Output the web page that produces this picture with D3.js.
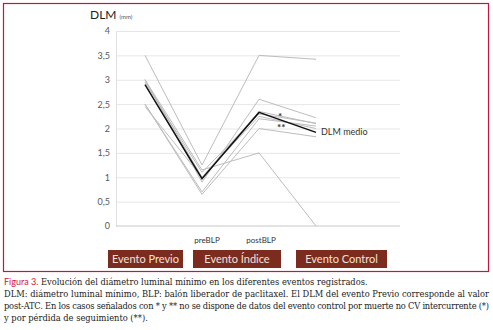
<!DOCTYPE html>
<html><head><meta charset="utf-8">
<script src="https://cdn.jsdelivr.net/npm/d3@7"></script>
<style>
html,body{margin:0;padding:0;background:#fff;}
svg{display:block;}
</style></head>
<body>
<script>
const categories = ["Previo", "preBLP", "postBLP", "Control"];
const catLabels = ["", "preBLP", "postBLP", ""];
const series = [
  [3.5, 1.25, 3.5, 3.42],
  [3.0, 1.15, 1.5, 0],
  [3.0, 0.9, 2.6, 2.22],
  [2.95, 1.1, 2.3, 2.11],
  [2.5, 0.7, 2.2, 2.05],
  [2.5, 0.65, 2.0, 1.83],
  [3.0, 1.0, 2.35, 2.1],
  [2.45, 1.0, 2.25, 2.0]
];
const meanValues = [2.9, 0.97, 2.33, 1.92];
const yTicks = [0, 0.5, 1, 1.5, 2, 2.5, 3, 3.5, 4];
const eventLabels = ["Evento Previo", "Evento Índice", "Evento Control"];
const captionLines = [
  "DLM: diámetro luminal mínimo, BLP: balón liberador de paclitaxel. El DLM del evento Previo corresponde al valor",
  "post-ATC. En los casos señalados con * y ** no se dispone de datos del evento control por muerte no CV intercurrente (*)",
  "y por pérdida de seguimiento (**)."
];

const W = 493, H = 330;
const svg = d3.select("body").append("svg").attr("width", W).attr("height", H);
const font = "Lato, 'Open Sans', sans-serif";

// frame
svg.append("rect").attr("x", 3.5).attr("y", 3.5).attr("width", 485).attr("height", 268)
  .attr("fill", "none").attr("stroke", "#c0163f").attr("stroke-width", 1.2);

const x = d3.scalePoint().domain(categories).range([145, 316]);
const y = d3.scaleLinear().domain([0, 4]).range([226, 31]);
const plotL = 116, plotR = 400;

// grid
const grid = svg.append("g").attr("transform", `translate(${plotL},0)`)
  .call(d3.axisLeft(y).tickValues(yTicks.filter(t => t > 0)).tickSize(-(plotR - plotL)).tickFormat(""));
grid.select(".domain").remove();
grid.selectAll("line").attr("stroke", "#e6e6e6").attr("stroke-width", 1);

// y axis labels
const yAxis = svg.append("g").attr("transform", `translate(${plotL},0)`)
  .call(d3.axisLeft(y).tickValues(yTicks).tickSize(0).tickPadding(6)
    .tickFormat(d => d3.format("")(d).replace(".", ",")));
yAxis.select(".domain").attr("stroke", "#e0e0e0");
yAxis.selectAll("text").attr("font-family", font).attr("font-size", 9).attr("fill", "#595959");

// x axis baseline
svg.append("line").attr("x1", plotL).attr("x2", plotR).attr("y1", y(0)).attr("y2", y(0))
  .attr("stroke", "#c8c8c8").attr("stroke-width", 1);

// category labels
svg.append("g").selectAll("text").data(categories.filter((c, i) => catLabels[i])).join("text")
  .attr("x", d => x(d) + (d === "preBLP" ? 5 : 2)).attr("y", 243)
  .attr("text-anchor", "middle").attr("font-family", font).attr("font-size", 8).attr("fill", "#333")
  .text(d => catLabels[categories.indexOf(d)]);

// series lines
const line = d3.line().defined(d => d != null).x((d, i) => x(categories[i])).y(d => y(d));
svg.append("g").selectAll("path").data(series).join("path")
  .attr("d", line).attr("fill", "none").attr("stroke", "#bdbdbd").attr("stroke-width", 1);

// mean
svg.append("path").datum(meanValues).attr("d", line).attr("fill", "none")
  .attr("stroke", "#111").attr("stroke-width", 1.5);
svg.append("text").attr("x", x("Control") + 5).attr("y", y(meanValues[3]) + 3)
  .attr("font-family", font).attr("font-size", 9).attr("fill", "#333").text("DLM medio");

// stars
svg.append("text").attr("x", 278).attr("y", 120).attr("font-family", font).attr("font-size", 10)
  .attr("font-weight", "bold").attr("fill", "#333").text("*");
svg.append("text").attr("x", 277).attr("y", 131).attr("font-family", font).attr("font-size", 10)
  .attr("font-weight", "bold").attr("fill", "#333").text("**");

// title
const t = svg.append("text").attr("x", 90).attr("y", 19).attr("font-family", font).attr("fill", "#222");
t.append("tspan").attr("font-size", 12).text("DLM");
t.append("tspan").attr("font-size", 6).attr("dx", 3).attr("fill", "#555").text("(mm)");

// event boxes
const boxes = [{x: 108, w: 75}, {x: 193, w: 88}, {x: 296, w: 91}];
const bg = svg.append("g").selectAll("g").data(eventLabels).join("g");
bg.append("rect").attr("x", (d, i) => boxes[i].x).attr("y", 250).attr("width", (d, i) => boxes[i].w)
  .attr("height", 18).attr("fill", "#7b2c1f");
bg.append("text").attr("x", (d, i) => boxes[i].x + boxes[i].w / 2).attr("y", 263)
  .attr("text-anchor", "middle").attr("font-family", font).attr("font-size", 11)
  .attr("fill", "#f3e2da").text(d => d);

// caption
const serif = "'DejaVu Serif', 'Liberation Serif', serif";
const c1 = svg.append("text").attr("x", 4).attr("y", 285).attr("font-family", serif).attr("font-size", 8.3);
c1.append("tspan").attr("fill", "#d0173f").attr("font-family", font).attr("font-size", 9).text("Figura 3.");
c1.append("tspan").attr("fill", "#222").text(" Evolución del diámetro luminal mínimo en los diferentes eventos registrados.");
svg.append("g").selectAll("text").data(captionLines).join("text")
  .attr("x", 4).attr("y", (d, i) => 297 + i * 12)
  .attr("font-family", serif).attr("font-size", 8.3).attr("fill", "#222")
  .attr("textLength", (d, i) => i < 2 ? 485 : null).attr("lengthAdjust", "spacing")
  .text(d => d);
</script>
</body></html>
